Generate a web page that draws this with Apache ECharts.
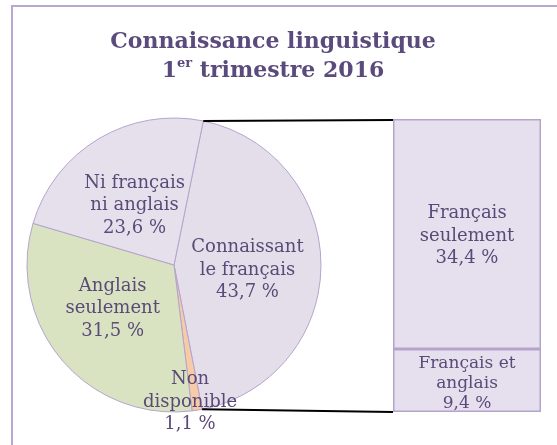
<!DOCTYPE html>
<html>
<head>
<meta charset="utf-8">
<script src="https://cdn.jsdelivr.net/npm/echarts@6/dist/echarts.min.js"></script>
<style>
html,body{margin:0;padding:0;background:#fff;}
#main{width:557px;height:445px;}
</style>
</head>
<body>
<div id="main"></div>
<script>
// donnees du graphique
var pieNames=['Connaissant\nle français','Non\ndisponible','Anglais\nseulement','Ni français\nni anglais'];
var pieValues=[43.7,1.1,31.5,23.6];
var pieColors=['#e3dee9','#f8cba8','#d9e3c1','#e6e0ec'];
var barNames=['Français et\nanglais','Français\nseulement'];
var barValues=[9.4,34.4];

var txtColor='#5a4a78',lineColor='#b4a4cc';
var pieCenter=[174,265],pieR=147,startAngle=78.5;
var font='"DejaVu Serif", serif';

function pct(v){return String(v).replace('.',',')+' %';}

var myChart=echarts.init(document.getElementById('main'));

var pieData=[];
function each(arr,fn){for(var i=0;i<arr.length;i++)fn(i,arr[i]);}
each(pieValues,function(i,v){
    pieData.push({name:pieNames[i],value:v,itemStyle:{color:pieColors[i]}});
});

var barSeries=[];
each(barValues,function(i,v){
    barSeries.push({
        name:barNames[i],type:'bar',stack:'fr',barWidth:'100%',
        data:[v],
        itemStyle:{color:'#e6dfed',borderColor:lineColor,borderWidth:1.5},
        label:{show:true,position:'inside',color:txtColor,fontFamily:font,fontSize:i==0?17:18,lineHeight:i==0?20:22.5,
            offset:[0,i==0?3:2],
            formatter:function(p){return p.seriesName+'\n'+pct(p.value);}}
    });
});

var option={
    animation:false,
    title:{
        text:'Connaissance linguistique\n{n|1}{s|er}{n| trimestre 2016}',
        left:268,top:23,textAlign:'center',
        textStyle:{color:'#5b4a7c',fontFamily:font,fontSize:22,fontWeight:'bold',lineHeight:29,
            rich:{
                n:{color:'#5b4a7c',fontFamily:font,fontSize:22,fontWeight:'bold',lineHeight:29},
                s:{color:'#5b4a7c',fontFamily:font,fontSize:13,fontWeight:'bold',verticalAlign:'top',lineHeight:20,padding:[0,0,6,0]}
            }}
    },
    grid:{left:393,top:119,width:148,height:293},
    xAxis:{type:'category',data:['fr'],show:false},
    yAxis:{type:'value',min:0,max:barValues[0]+barValues[1],show:false},
    series:[{
        type:'pie',center:pieCenter,radius:pieR,startAngle:startAngle,clockwise:true,
        itemStyle:{borderColor:lineColor,borderWidth:1},
        label:{position:'inner',color:txtColor,fontFamily:font,fontSize:18,lineHeight:22.5,
            formatter:function(p){return p.name+'\n'+pct(p.value);}},
        labelLayout:function(p){
            if(p.dataIndex===0){return {dx:-1.5,dy:2.5};}
            if(p.dataIndex===1){return {x:190,y:402,align:'center',verticalAlign:'middle'};}
            if(p.dataIndex===2){return {dx:-1.5,dy:-3};}
            if(p.dataIndex===3){return {dy:3};}
            return {};
        },
        data:pieData
    }].concat(barSeries)
};
myChart.setOption(option);

// cadre + lignes de liaison vers la barre
var total=0;each(pieValues,function(i,v){total+=v;});
var a0=startAngle*Math.PI/180;
var a1=(startAngle-pieValues[0]/total*360)*Math.PI/180;
var p0=[pieCenter[0]+pieR*Math.cos(a0),pieCenter[1]-pieR*Math.sin(a0)];
var p1=[pieCenter[0]+pieR*Math.cos(a1),pieCenter[1]-pieR*Math.sin(a1)];
var topPt=myChart.convertToPixel({gridIndex:0},['fr',barValues[0]+barValues[1]]);
var botPt=myChart.convertToPixel({gridIndex:0},['fr',0]);
var barLeft=393;
myChart.setOption({graphic:[
    {type:'rect',shape:{x:12,y:6,width:600,height:500},style:{fill:null,stroke:'#b8a7d1',lineWidth:2},z:-1},
    {type:'line',shape:{x1:p0[0],y1:p0[1],x2:barLeft,y2:topPt[1]+1},style:{stroke:'#000',lineWidth:2},z:10},
    {type:'line',shape:{x1:p1[0],y1:p1[1],x2:barLeft,y2:botPt[1]},style:{stroke:'#000',lineWidth:2},z:10}
]});
</script>
</body>
</html>
